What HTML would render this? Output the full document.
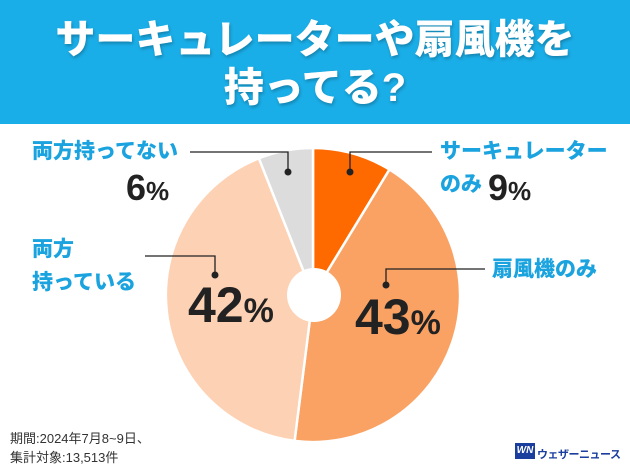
<!DOCTYPE html>
<html><head><meta charset="utf-8"><style>
body{margin:0;width:630px;height:473px;overflow:hidden;background:#fff;font-family:"Liberation Sans","Noto Sans CJK JP",sans-serif;position:relative}
.hd{position:absolute;left:0;top:0;width:630px;height:124px;background:#1AAEE8}
.t{position:absolute;left:0;width:630px;text-align:center;color:#fff;font-weight:900;font-size:40px;line-height:1;text-shadow:1px 2px 3px rgba(0,0,0,.25)}
.b{position:absolute;color:#1AA3DE;font-weight:900;font-size:21px;white-space:nowrap;line-height:1}
.p{position:absolute;color:#222;font-weight:900;white-space:nowrap;line-height:1}
.f{position:absolute;left:10px;color:#333;font-size:13px;line-height:1}
</style></head><body>
<div class="hd"></div>
<div class="t" style="top:20px">サーキュレーターや扇風機を</div>
<div class="t" style="top:68px">持ってる?</div>
<svg style="position:absolute;left:0;top:0" width="630" height="473">
<g stroke="#fff" stroke-width="2.5">
<path d="M313,295 L313,148 A147,147 0 0 1 389.5,169.5 Z" fill="#FF6A00"/>
<path d="M313,295 L389.5,169.5 A147,147 0 0 1 294.6,440.9 Z" fill="#F9A263"/>
<path d="M313,295 L294.6,440.9 A147,147 0 0 1 258.9,158.3 Z" fill="#FDD1B3"/>
<path d="M313,295 L258.9,158.3 A147,147 0 0 1 313,148 Z" fill="#DCDCDC"/>
</g>
<circle cx="314" cy="295" r="27" fill="#fff"/>
<g stroke="#222" stroke-width="1.3" fill="none">
<polyline points="190,152 288,152 288,172"/>
<polyline points="432,152 350,152 350,172"/>
<polyline points="485,269 386,269 386,285"/>
<polyline points="145,256 215,256 215,275"/>
</g>
<g fill="#222"><circle cx="288" cy="172" r="3.5"/><circle cx="350" cy="172" r="3.5"/><circle cx="386" cy="285" r="3.5"/><circle cx="215" cy="275" r="3.5"/></g>
</svg>
<div class="b" style="left:32px;top:141px">両方持ってない</div>
<div class="p" style="left:126px;top:170px;font-size:36px">6<span style="font-size:26px">%</span></div>
<div class="b" style="left:440px;top:141px">サーキュレーター</div>
<div class="b" style="left:440px;top:174px">のみ</div>
<div class="p" style="left:488px;top:170px;font-size:36px">9<span style="font-size:26px">%</span></div>
<div class="b" style="left:492px;top:259px">扇風機のみ</div>
<div class="p" style="left:355px;top:292px;font-size:50px">43<span style="font-size:34px">%</span></div>
<div class="b" style="left:32px;top:239px">両方</div>
<div class="b" style="left:32px;top:272px">持っている</div>
<div class="p" style="left:188px;top:280px;font-size:50px">42<span style="font-size:34px">%</span></div>
<div class="f" style="top:432px">期間:2024年7月8~9日、</div>
<div class="f" style="top:451px">集計対象:13,513件</div>
<div style="position:absolute;left:515px;top:443px;width:20px;height:16px;background:#1A3E9E;color:#fff;font-size:10px;font-weight:900;font-style:italic;line-height:16px;text-align:center">WN</div>
<div style="position:absolute;left:537px;top:446px;font-size:11px;color:#1A3E9E;font-weight:700;white-space:nowrap;letter-spacing:-0.5px">ウェザーニュース</div>
</body></html>
